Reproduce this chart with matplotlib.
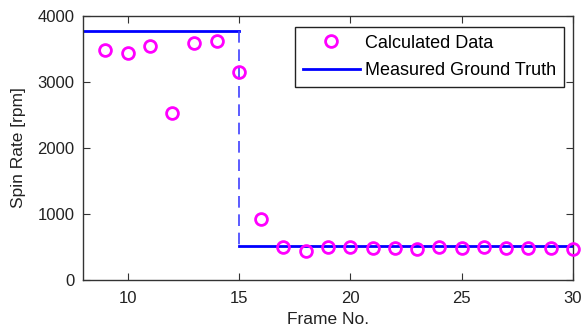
import matplotlib
matplotlib.use("Agg")
import matplotlib.pyplot as plt

plt.rcParams['font.family'] = ['Liberation Sans', 'DejaVu Sans']

frames = [9, 10, 11, 12, 13, 14, 15, 16, 17, 18, 19, 20, 21, 22, 23, 24, 25, 26, 27, 28, 29, 30]
calculated = [3485, 3444, 3550, 2525, 3596, 3616, 3146, 919, 505, 444, 505, 505, 480, 485, 465, 505, 485, 505, 485, 490, 485, 465]

gt_high_x = [8, 15]
gt_high_y = [3780, 3780]
gt_step_x = [15, 15]
gt_step_y = [3780, 520]
gt_low_x = [15, 30]
gt_low_y = [520, 520]

fig = plt.figure(figsize=(5.81, 3.33), dpi=100)
ax = fig.add_axes([83/581, 1 - 280/333, (573-83)/581, (280-16)/333])

ax.plot(gt_high_x, gt_high_y, color='#0000ff', lw=2, zorder=2)
ax.plot(gt_step_x, gt_step_y, color='#4040ff', lw=1.2, ls=(0, (7, 4)), zorder=2)
ax.plot(gt_low_x, gt_low_y, color='#0000ff', lw=2, zorder=2, label='Measured Ground Truth')
ax.plot(frames, calculated, 'o', ms=8.5, mfc='none', mec='#ff00ff', mew=2, zorder=3,
        label='Calculated Data', clip_on=False)

ax.set_xlim(8, 30)
ax.set_ylim(0, 4000)
ax.set_xticks([10, 15, 20, 25, 30])
ax.set_yticks([0, 1000, 2000, 3000, 4000])
ax.tick_params(direction='in', top=True, right=True, labelsize=12, length=5, color='#333333', labelcolor='#222222')
ax.tick_params(axis='x', pad=8)
ax.tick_params(axis='y', pad=6)
for s in ax.spines.values():
    s.set_color('#333333')
    s.set_linewidth(1)
ax.set_xlabel('Frame No.', fontsize=12.5, color='#222222', labelpad=4)
ax.set_ylabel('Spin Rate [rpm]', fontsize=12.5, color='#222222', labelpad=8)

h, l = ax.get_legend_handles_labels()
leg = ax.legend([h[1], h[0]], [l[1], l[0]], loc='upper right', bbox_to_anchor=(564/581, 1 - 27/333),
                bbox_transform=fig.transFigure, fontsize=13, fancybox=False, framealpha=1,
                edgecolor='#222222', handlelength=3.15, borderpad=0.42, labelspacing=0.6,
                handletextpad=0.3, borderaxespad=0)
leg.get_frame().set_linewidth(1)

fig.savefig('out.png', dpi=100)
